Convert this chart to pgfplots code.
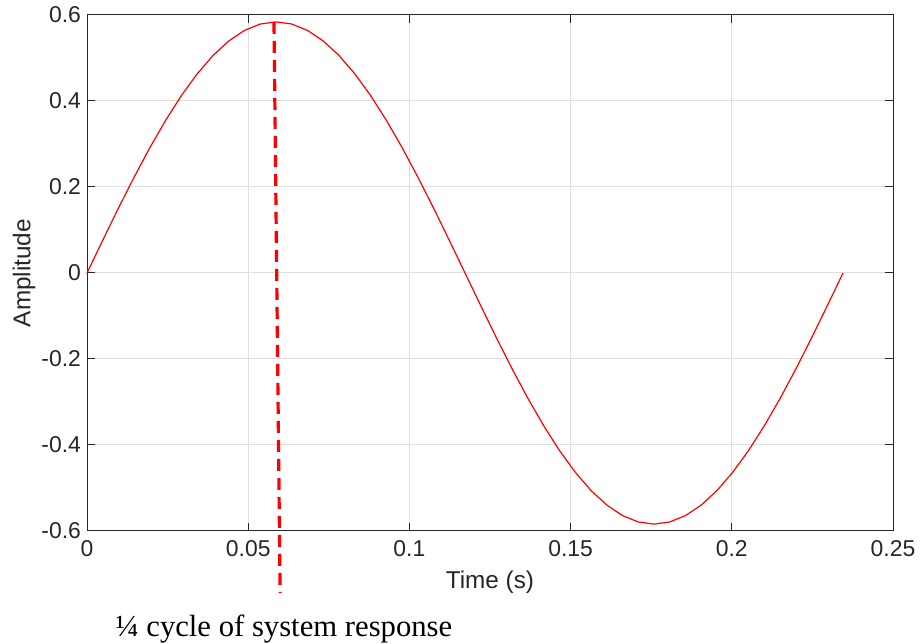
\documentclass[border=0pt]{standalone}
\usepackage{pgfplots}
\pgfplotsset{compat=1.18}
\usepackage{fontspec}
\setmainfont{Liberation Sans}
\newfontfamily\serifcap{Liberation Serif}
\definecolor{axgray}{HTML}{262626}
\definecolor{gridgray}{HTML}{DFDFDF}
\definecolor{mred}{HTML}{FF0000}
\begin{document}
\begin{tikzpicture}
\begin{axis}[
  at={(43.5bp,56.5bp)}, anchor=south west,
  scale only axis, width=403bp, height=258bp,
  xmin=0, xmax=0.25, ymin=-0.6, ymax=0.6,
  xtick={0,0.05,0.1,0.15,0.2,0.25},
  xticklabels={0,0.05,0.1,0.15,0.2,0.25},
  ytick={-0.6,-0.4,-0.2,0,0.2,0.4,0.6},
  yticklabels={-0.6,-0.4,-0.2,0,0.2,0.4,0.6},
  scaled x ticks=false, scaled y ticks=false,
  tick align=inside, major tick length=4bp,
  xtick pos=both, ytick pos=both,
  grid=major,
  major grid style={color=gridgray, line width=0.5bp},
  axis line style={color=axgray, line width=0.5bp},
  every tick/.style={color=axgray, line width=0.5bp},
  tick label style={font=\fontsize{11.5}{13}\selectfont, text=axgray},
  xticklabel style={yshift=-1bp},
  yticklabel style={xshift=0.5bp},
  label style={font=\fontsize{12.2}{14}\selectfont, text=axgray},
  xlabel={Time (s)}, ylabel={Amplitude},
  xlabel style={at={(axis description cs:0.5,-0.0988)}, anchor=center},
  ylabel style={at={(axis description cs:-0.0782,0.5)}, anchor=center},
  clip=false,
]
\addplot[mred, line width=0.6bp] coordinates {
(0,0) (0.00489,0.0762) (0.00977,0.1512) (0.01466,0.2235) (0.01954,0.2920)
(0.02443,0.3555) (0.02931,0.4130) (0.03420,0.4633) (0.03908,0.5058) (0.04397,0.5396)
(0.04885,0.5641) (0.05374,0.5790) (0.05863,0.5840) (0.06351,0.5790) (0.06840,0.5641)
(0.07328,0.5396) (0.07817,0.5058) (0.08305,0.4633) (0.08794,0.4130) (0.09282,0.3555)
(0.09771,0.2920) (0.10259,0.2235) (0.10748,0.1512) (0.11236,0.0762) (0.11725,0)
(0.12214,-0.0762) (0.12702,-0.1512) (0.13191,-0.2235) (0.13679,-0.2920) (0.14168,-0.3555)
(0.14656,-0.4130) (0.15145,-0.4633) (0.15633,-0.5058) (0.16122,-0.5396) (0.16610,-0.5641)
(0.17099,-0.5790) (0.17588,-0.5840) (0.18076,-0.5790) (0.18565,-0.5641) (0.19053,-0.5396)
(0.19542,-0.5058) (0.20030,-0.4633) (0.20519,-0.4130) (0.21007,-0.3555) (0.21496,-0.2920)
(0.21984,-0.2235) (0.22473,-0.1512) (0.22961,-0.0762) (0.2345,0)
};
\addplot[mred, line width=1.6bp, dash pattern=on 6bp off 3.5bp] coordinates {
(0.0580,0.584) (0.0599,-0.744)
};
\node[font=\serifcap\fontsize{15.4}{17}\selectfont, text=black] at (axis cs:0.0611,-0.828) {¼ cycle of system response};
\end{axis}
\pgfresetboundingbox
\path[use as bounding box] (0,0) rectangle (460.5bp,322bp);
\end{tikzpicture}
\end{document}
